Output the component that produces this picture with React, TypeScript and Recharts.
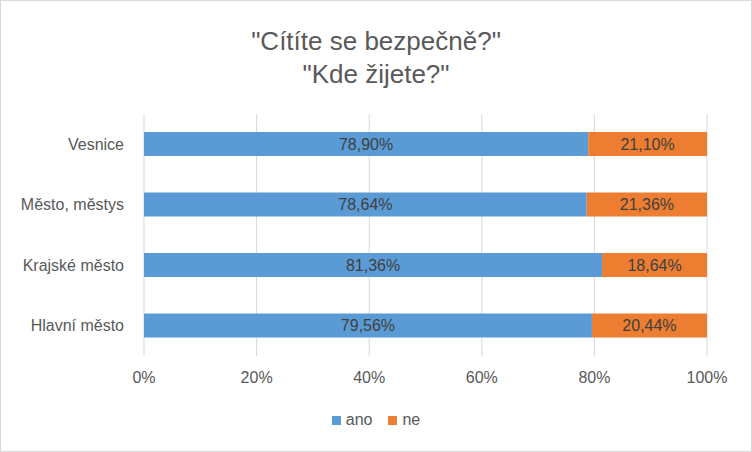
import { BarChart, Bar, XAxis, YAxis, CartesianGrid, LabelList } from 'recharts';

const categories = ['Vesnice', 'Město, městys', 'Krajské město', 'Hlavní město'];
const anoValues = [78.9, 78.64, 81.36, 79.56];
const neValues = [21.1, 21.36, 18.64, 20.44];
const xTicks = [0, 20, 40, 60, 80, 100];
const seriesNames = ['ano', 'ne'];
const seriesColors = ['#5b9bd5', '#ed7d31'];

const data = categories.map((name, i) => ({ name, ano: anoValues[i], ne: neValues[i] }));

const FONT = '"Liberation Sans", Arial, sans-serif';

const fmtPct = (v: any) => `${Number(v).toFixed(2).replace('.', ',')}%`;

export default function App() {
  return (
    <div
      style={{
        position: 'absolute',
        left: 0,
        top: 0,
        width: 750,
        height: 450,
        border: '1px solid #d9d9d9',
        background: '#fff',
        fontFamily: FONT,
      }}
    >
      <div
        style={{
          position: 'absolute',
          top: 24,
          left: 0,
          width: 750,
          textAlign: 'center',
          color: '#595959',
          fontSize: 26,
          lineHeight: '33px',
        }}
      >
        "Cítíte se bezpečně?"
        <br />
        "Kde žijete?"
      </div>
      <BarChart
        width={750}
        height={450}
        data={data}
        layout="vertical"
        margin={{ top: 113, right: 44, bottom: 62, left: 0 }}
        barSize={24}
        style={{ fontFamily: FONT }}
      >
        <CartesianGrid horizontal={false} stroke="#d9d9d9" />
        <XAxis
          type="number"
          domain={[0, 100]}
          ticks={xTicks}
          tickFormatter={(v) => `${v}%`}
          axisLine={false}
          tickLine={false}
          tickMargin={10}
          height={33}
          tick={{ fill: '#595959', fontSize: 16 }}
        />
        <YAxis
          type="category"
          dataKey="name"
          axisLine={false}
          tickLine={false}
          width={143}
          tickMargin={14}
          tick={{ fill: '#595959', fontSize: 16 }}
        />
        <Bar dataKey="ano" stackId="a" fill={seriesColors[0]} isAnimationActive={false}>
          <LabelList dataKey="ano" position="center" formatter={fmtPct} fill="#404040" fontSize={16} />
        </Bar>
        <Bar dataKey="ne" stackId="a" fill={seriesColors[1]} isAnimationActive={false}>
          <LabelList dataKey="ne" position="center" formatter={fmtPct} fill="#404040" fontSize={16} />
        </Bar>
      </BarChart>
      <div
        style={{
          position: 'absolute',
          top: 410,
          left: 0,
          width: 750,
          display: 'flex',
          justifyContent: 'center',
          gap: 16,
          fontSize: 16,
          color: '#595959',
        }}
      >
        {seriesNames.map((n, i) => (
          <span key={n} style={{ display: 'flex', alignItems: 'center', gap: 5 }}>
            <span style={{ width: 9, height: 9, background: seriesColors[i], display: 'inline-block' }} />
            {n}
          </span>
        ))}
      </div>
    </div>
  );
}
